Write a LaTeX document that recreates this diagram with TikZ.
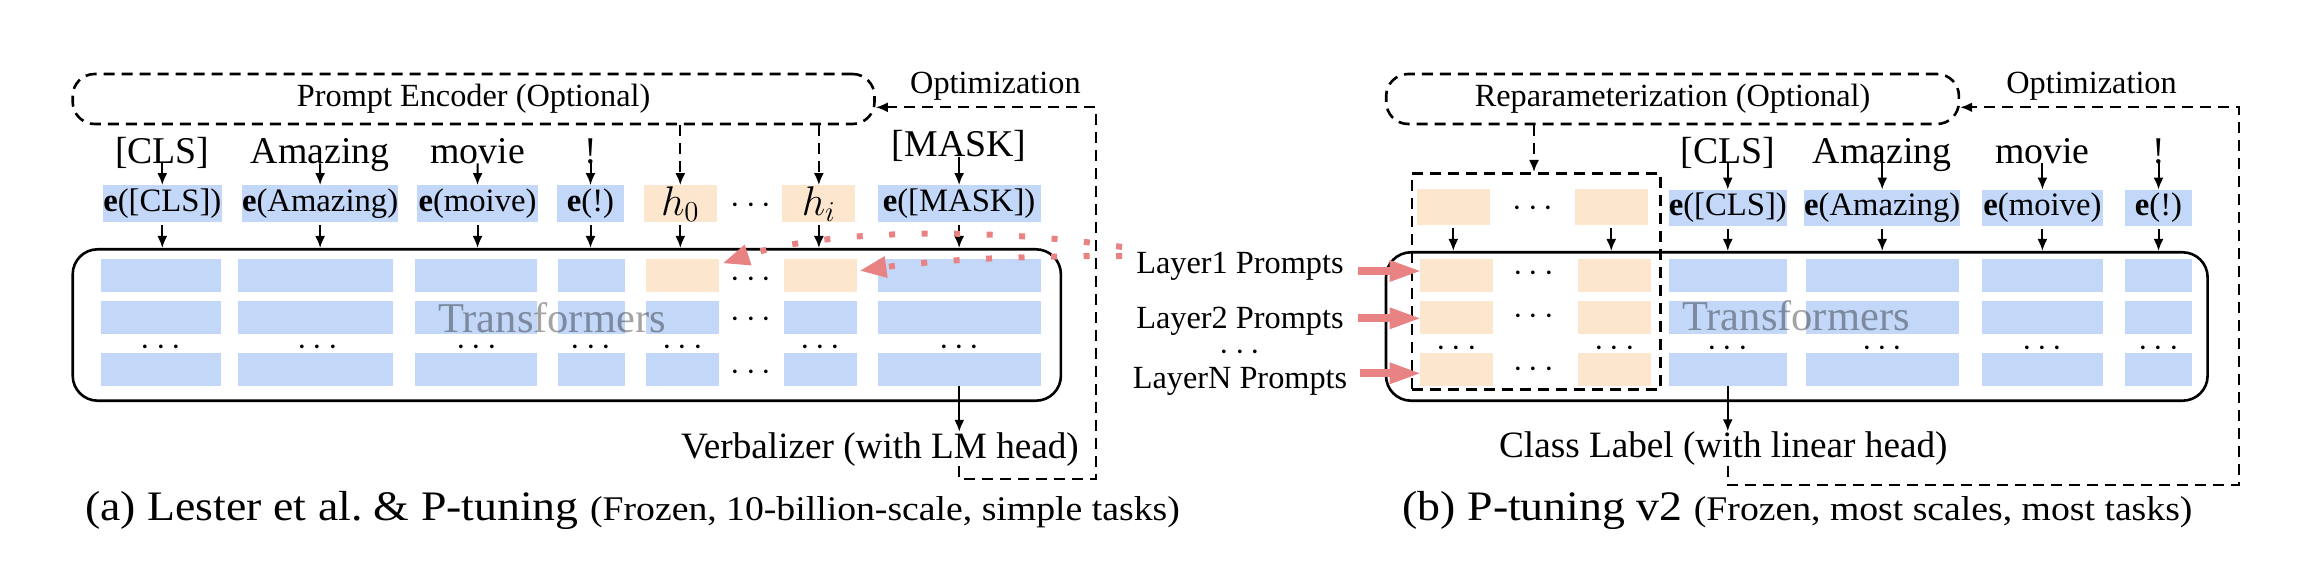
\documentclass[tikz,border=0pt]{standalone}
\usepackage{fontspec}
\setmainfont{Liberation Serif}
\usepackage{graphicx}
\usetikzlibrary{arrows.meta}
\definecolor{eblue}{RGB}{195,215,248}
\definecolor{porange}{RGB}{252,230,206}
\definecolor{pinkc}{RGB}{233,130,130}
\newcommand\fsTok{\fontsize{18.9pt}{22pt}\selectfont}
\newcommand\fsE{\fontsize{16.35pt}{19pt}\selectfont}
\newcommand\fsS{\fontsize{16.15pt}{19pt}\selectfont}
\newcommand\fsV{\fontsize{18.6pt}{22pt}\selectfont}
\newcommand\fsT{\fontsize{21.25pt}{25pt}\selectfont}
\newcommand\fsH{\fontsize{20.74pt}{24pt}\selectfont}
\newcommand\fsDots{\fontsize{17.28pt}{20pt}\selectfont}
\newcommand\fsCapL{\fontsize{21pt}{25pt}\selectfont}
\newcommand\fsCapS{\fontsize{17.3pt}{21pt}\selectfont}
\newcommand\mkblk[7]{\node[#1, minimum width={(#5-#3)*0.5pt}, minimum height={(#6-#4)*0.5pt}] (#2) at ({(#3+#5)/2},{(#4+#6)/2}) {#7};}
\begin{document}
\begin{tikzpicture}[x=0.5pt,y=-0.5pt,
  tok/.style={font=\fsTok, anchor=base, inner sep=0pt},
  ebox/.style={fill=eblue, inner sep=0pt, font=\fsE},
  pbox/.style={fill=porange, inner sep=0pt, font=\fsH},
  stripe/.style={fill=eblue, inner sep=0pt},
  tbox/.style={draw, line width=1.3pt, rounded corners=12.5pt, inner sep=0pt},
  dbox/.style={draw, line width=1.3pt, dash pattern=on 5.5pt off 3.5pt, inner sep=0pt},
  arr/.style={-{Latex[length=6pt,width=5pt]}, line width=1pt},
  darr/.style={arr, dash pattern=on 5.5pt off 3.5pt},
  lbl/.style={font=\fsS, anchor=base, inner sep=0pt},
  ell/.style={inner sep=0pt, font=\fsDots, anchor=base, yshift=-4.3pt, text height=5pt, text depth=0pt},
  pinkdot/.style={draw=pinkc, line width=3pt, dash pattern=on 3pt off 13.25pt, -{Triangle[length=13pt,width=11pt,line width=0pt]}},
  pinkarr/.style={draw=pinkc, line width=3.8pt, -{Triangle[length=15pt,width=11pt,line width=0pt]}},
  trf/.style={font=\fsT, anchor=base, inner sep=0pt, text=black, text opacity=0.36, text depth=0pt}
]
\useasboundingbox (0,0) rectangle (2300,566);

%%%%%%%%%%%%%%%% Panel (a)
\mkblk{dbox, rounded corners=11pt}{encA}{72.7}{74}{874.5}{124}{\fsS Prompt Encoder (Optional)}
\node[lbl] (optA) at (995.4,93.3) {Optimization};

\node[tok] (tA1) at (162.3,163.3) {[CLS]};
\node[tok] (tA2) at (320.1,163.3) {Amazing};
\node[tok] (tA3) at (477.6,163.3) {movie};
\node[tok] (tA4) at (590.5,163.3) {!};
\node[tok] (tA7) at (959.1,156.7) {[MASK]};

\mkblk{ebox}{eA1}{102.6}{185.5}{222}{222}{\textbf{e}([CLS])}
\mkblk{ebox}{eA2}{243}{185.5}{397.2}{222}{\textbf{e}(Amazing)}
\mkblk{ebox}{eA3}{417.1}{185.5}{538}{222}{\textbf{e}(moive)}
\mkblk{ebox}{eA4}{557}{185.5}{624}{222}{\textbf{e}(!)}
\mkblk{pbox}{eA5}{644.1}{185.5}{716.5}{222}{$h_0$}
\mkblk{pbox}{eA6}{782.3}{185.5}{855.4}{222}{$h_i$}
\mkblk{ebox}{eA7}{877.6}{185.5}{1040.6}{222}{\textbf{e}([MASK])}
\node[ell] (adE) at (751,205) {$\cdots$};

\foreach \n/\xa/\xb in {1/101/220.5,2/238/392.6,3/414.5/536.5,4/557.6/625,7/878/1040.6}
  \foreach \r/\ya/\yb in {1/259.5/292.5,2/301.5/334.5,3/353/386}
    {\mkblk{stripe}{a\n\r}{\xa}{\ya}{\xb}{\yb}{}}
\foreach \n/\xa/\xb in {5/646.4/719,6/783.8/857}{
  \mkblk{pbox}{a\n1}{\xa}{259.5}{\xb}{292.5}{}
  \mkblk{stripe}{a\n2}{\xa}{301.5}{\xb}{334.5}{}
  \mkblk{stripe}{a\n3}{\xa}{353}{\xb}{386}{}
}
\foreach \y [count=\i] in {279,319,372} \node[ell] (adc\i) at (751,\y) {$\cdots$};
\foreach \x [count=\i] in {161,317.5,476.5,591,682.7,820.4,959.3} \node[ell] (adr\i) at (\x,347.3) {$\cdots$};

\mkblk{tbox}{tA}{72.7}{249.3}{1060.9}{400.7}{}
\node[trf] (trA) at (552,332.5) {Transformers};

\foreach \i in {1,2,3,4,7} \draw[arr] (tA\i.base) -- (eA\i.north);
\foreach \i in {5,6} \draw[darr] (encA.south -| eA\i.north) -- (eA\i.north);
\foreach \i in {1,...,7} \draw[arr] ([yshift=-1.5pt]eA\i.south) -- (eA\i.south |- tA.north);

\node[anchor=base, inner sep=0pt, font=\fsV] (verbA) at (880,458) {Verbalizer (with LM head)};
\draw[arr] (a73.south) -- (a73.south |- verbA.north);

\coordinate (oAtr) at (1095.7,107.3);
\coordinate (oAbr) at (1095.7,479.3);
\draw[darr] (a73.south |- verbA.south) |- (oAbr) -- (oAtr) -- (encA.east |- oAtr);

\coordinate (pkU) at (1122,247);
\coordinate (pkL) at (1122,256);
\draw[pinkdot] (pkU) .. controls (1000,228) and (830,228) .. ([xshift=2pt,yshift=-2pt]a51.north east);
\draw[pinkdot] (pkL) .. controls (1000,256) and (930,261) .. ([xshift=1.5pt,yshift=2.7pt]a61.east);

\node[anchor=base west, inner sep=0pt] (capA) at (85,520) {\scalebox{1.09}[1]{\fsCapL (a) Lester et al.\ \& P-tuning {\fsCapS (Frozen, 10-billion-scale, simple tasks)}}};

%%%%%%%%%%%%%%%% Panel (b)
\mkblk{dbox, rounded corners=11pt}{encB}{1386.2}{74}{1958.9}{124}{\fsS Reparameterization (Optional)}
\node[lbl] (optB) at (2091.5,93.3) {Optimization};

\node[tok] (tB1) at (1727.75,163.3) {[CLS]};
\node[tok] (tB2) at (1882.2,163.3) {Amazing};
\node[tok] (tB3) at (2042.4,163.3) {movie};
\node[tok] (tB4) at (2158.5,163.3) {!};

\mkblk{ebox}{eB1}{1668.7}{190}{1786.8}{226}{\textbf{e}([CLS])}
\mkblk{ebox}{eB2}{1805.5}{190}{1958.9}{226}{\textbf{e}(Amazing)}
\mkblk{ebox}{eB3}{1981.7}{190}{2103.1}{226}{\textbf{e}(moive)}
\mkblk{ebox}{eB4}{2124.7}{190}{2192.3}{226}{\textbf{e}(!)}

\mkblk{pbox}{pA}{1417}{189.5}{1489.6}{225}{}
\mkblk{pbox}{pB}{1574.5}{189.5}{1648}{225}{}
\node[ell] (bdE) at (1533,208.3) {$\cdots$};

\foreach \n/\xa/\xb in {1/1668.7/1786.8,2/1805.5/1958.9,3/1981.7/2103.1,4/2124.7/2192.3}
  \foreach \r/\ya/\yb in {1/259.5/292.5,2/301.5/334.5,3/353/386}
    {\mkblk{stripe}{b\n\r}{\xa}{\ya}{\xb}{\yb}{}}
\foreach \n/\xa/\xb in {A/1420/1493.4,B/1578.4/1651}
  \foreach \r/\ya/\yb in {1/259.5/292.5,2/301.5/334.5,3/353/386}
    {\mkblk{pbox}{o\n\r}{\xa}{\ya}{\xb}{\yb}{}}
\foreach \y [count=\i] in {272.7,316,369.3} \node[ell] (bdc\i) at (1533.5,\y) {$\cdots$};
\foreach \x [count=\i] in {1456.7,1614.7,1727.75,1882.2,2042.4,2158.5} \node[ell] (bdr\i) at (\x,348) {$\cdots$};

\mkblk{tbox}{tB}{1386}{252.3}{2207.6}{400.7}{}
\mkblk{dbox}{prect}{1411.9}{173.3}{1660.6}{389.3}{}
\node[trf] (trB) at (1796,331) {Transformers};

\foreach \i in {1,2,3,4} \draw[arr] (tB\i.base) -- (eB\i.north);
\foreach \i in {1,2,3,4} \draw[arr] ([yshift=-1.5pt]eB\i.south) -- (eB\i.south |- tB.north);
\draw[arr] ([yshift=-1.5pt]pA.south) -- (pA.south |- tB.north);
\draw[arr] ([yshift=-1.5pt]pB.south) -- (pB.south |- tB.north);
\coordinate (rpx) at (1534,0);
\draw[darr] (encB.south -| rpx) -- (prect.north -| rpx);

\node[lbl] (lay1) at (1240,274) {Layer1 Prompts};
\node[lbl] (lay2) at (1240,328.3) {Layer2 Prompts};
\node[ell] (layd) at (1240,351.7) {$\cdots$};
\node[lbl] (layN) at (1240,388.3) {LayerN Prompts};
\coordinate (la1) at (1358,271);
\coordinate (la2) at (1358,318.3);
\coordinate (la3) at (1360,373.3);
\draw[pinkarr] (la1) -- (la1 -| oA1.west);
\draw[pinkarr] (la2) -- (la2 -| oA2.west);
\draw[pinkarr] (la3) -- (la3 -| oA3.west);

\node[anchor=base, inner sep=0pt, font=\fsV] (clsB) at (1723.3,457.5) {Class Label (with linear head)};
\draw[arr] (b13.south) -- (b13.south |- clsB.north);

\coordinate (oBtr) at (2238.7,107.3);
\coordinate (oBbr) at (2238.7,485);
\draw[darr] (b13.south |- clsB.south) |- (oBbr) -- (oBtr) -- (encB.east |- oBtr);

\node[anchor=base west, inner sep=0pt] (capB) at (1402.3,520) {\scalebox{1.09}[1]{\fsCapL (b) P-tuning v2 {\fsCapS (Frozen, most scales, most tasks)}}};
\end{tikzpicture}
\end{document}
